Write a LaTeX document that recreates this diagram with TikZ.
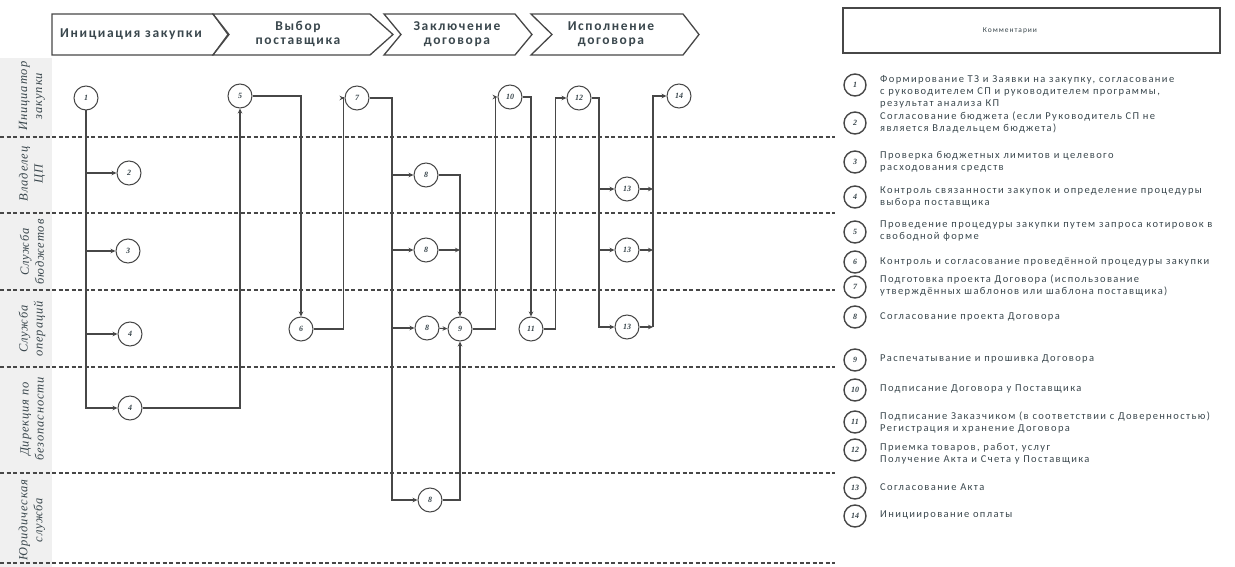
\documentclass[tikz,border=0pt]{standalone}
\usepackage{fontspec}
\setmainfont{Carlito}
\newfontfamily\cmtfont[LetterSpace=13]{Carlito}
\newfontfamily\hdrfont[LetterSpace=12]{Carlito}
\newfontfamily\lanefont[LetterSpace=7]{Liberation Serif}
\newfontfamily\numfont{Liberation Serif}
\usetikzlibrary{arrows.meta,calc}
\definecolor{ln}{HTML}{474747}
\definecolor{tx}{HTML}{3A474D}
\begin{document}
\begin{tikzpicture}[x=1pt,y=-1pt,
  every node/.style={inner sep=0pt},
  num/.style={circle,draw=ln,line width=1pt,minimum size=24pt,fill=white,
    font=\numfont\itshape\bfseries\fontsize{8}{8}\selectfont,text=tx},
  cnum/.style={circle,draw=ln,line width=1.4pt,minimum size=22pt,fill=white,
    font=\numfont\itshape\bfseries\fontsize{8}{8}\selectfont,text=tx},
  cmt/.style={anchor=north west,align=left,font=\cmtfont\fontsize{10.5}{12}\selectfont,text=tx},
  conn/.style={draw=ln,line width=1.1pt},
  arr/.style={conn,-{Stealth[length=5pt,width=4.5pt]}},
  lanesep/.style={draw=ln,line width=1.2pt,dash pattern=on 4pt off 2.5pt},
  lanelbl/.style={rotate=90,align=center,text=tx,
    font=\lanefont\itshape\fontsize{12.5}{15}\selectfont},
  chev/.style={draw=ln,line width=1.3pt,fill=white},
  hdr/.style={align=center,text=tx,font=\hdrfont\bfseries\fontsize{13.5}{14.5}\selectfont}
]
\useasboundingbox (0,0) rectangle (1235,567);

% lane label strip
\fill[gray!12] (0,58) rectangle (52,567);

% lane separators
\foreach \yy in {137,213,290,367,473,563}
  \draw[lanesep] (0,\yy) -- (835,\yy);

% lane labels
\node[lanelbl] (l1) at (32,96) {Инициатор\\закупки};
\node[lanelbl] (l2) at (32,174) {Владелец\\ЦП};
\node[lanelbl] (l3) at (32,252) {Служба\\бюджетов};
\node[lanelbl] (l4) at (32,329) {Служба\\операций};
\node[lanelbl] (l5) at (32,419) {Дирекция по\\безопасности};
\node[lanelbl] (l6) at (32,520) {Юридическая\\служба};

% header chevrons
\draw[chev] (52,14) -- (213,14) -- (228,34.5) -- (213,55) -- (52,55) -- cycle;
\draw[chev] (213,14) -- (370,14) -- (393,34.5) -- (370,55) -- (213,55) -- (229,34.5) -- cycle;
\draw[chev] (384,14) -- (515,14) -- (532,34.5) -- (515,55) -- (384,55) -- (401,34.5) -- cycle;
\draw[chev] (531,14) -- (683,14) -- (699,34.5) -- (683,55) -- (531,55) -- (552,34.5) -- cycle;
\node[hdr] (h1) at (131,34) {Инициация закупки};
\node[hdr] (h2) at (298,34) {Выбор\\поставщика};
\node[hdr] (h3) at (457,34) {Заключение\\договора};
\node[hdr] (h4) at (611,34) {Исполнение\\договора};

% comments header
\draw[draw=ln,line width=1.2pt,fill=white] (843,8) rectangle (1220,53);
\node[text=tx,font=\cmtfont\fontsize{7.5}{9}\selectfont] (hc) at (1010,31) {Комментарии};

% process nodes
\node[num] (n1)  at (86,98)   {1};
\node[num] (n2)  at (129,173) {2};
\node[num] (n3)  at (128,251) {3};
\node[num] (n4a) at (130,334) {4};
\node[num] (n4b) at (130,408) {4};
\node[num] (n5)  at (240,96)  {5};
\node[num] (n6)  at (301,329) {6};
\node[num] (n7)  at (357,98)  {7};
\node[num] (n8a) at (426,175) {8};
\node[num] (n8b) at (426,250) {8};
\node[num] (n8c) at (427,328) {8};
\node[num] (n8d) at (430,500) {8};
\node[num] (n9)  at (460,329) {9};
\node[num] (n10) at (510,97)  {10};
\node[num] (n11) at (531,329) {11};
\node[num] (n12) at (579,98)  {12};
\node[num] (n13a) at (627,189) {13};
\node[num] (n13b) at (627,250) {13};
\node[num] (n13c) at (627,327) {13};
\node[num] (n14) at (679,96)  {14};

\coordinate (v7) at (392,98);
\coordinate (v12) at (599,98);
\coordinate (v14) at (653,96);

% connectors
\draw[arr] (n1.south) |- (n4b.west);
\draw[arr] (n1.south |- n2) -- (n2.west);
\draw[arr] (n1.south |- n3) -- (n3.west);
\draw[arr] (n1.south |- n4a) -- (n4a.west);
\draw[arr] (n4b.east) -| (n5.south);
\draw[arr] (n5.east) -| (n6.north);
\draw[arr] (n6.east) -- ++(30,0) |- (n7.west);
\draw[arr] (n7.east) -- (v7) |- (n8d.west);
\draw[arr] (v7 |- n8a) -- (n8a.west);
\draw[arr] (v7 |- n8b) -- (n8b.west);
\draw[arr] (v7 |- n8c) -- (n8c.west);
\draw[arr] (n8a.east) -| (n9.north);
\draw[arr] (n8b.east) -- (n8b.east -| n9);
\draw[arr] (n8c) -- (n9);
\draw[arr] (n8d.east) -| (n9.south);
\draw[arr] (n9.east) -- ++(23,0) |- (n10.west);
\draw[arr] (n10.east) -| (n11.north);
\draw[arr] (n11.east) -- ++(12,0) |- (n12.west);
\draw[arr] (n12.east) -- (v12) |- (n13c.west);
\draw[arr] (v12 |- n13a) -- (n13a.west);
\draw[arr] (v12 |- n13b) -- (n13b.west);
\draw[arr] (n13a.east) -- (n13a.east -| v14);
\draw[arr] (n13b.east) -- (n13b.east -| v14);
\draw[arr] (n13c.east) -- (n13c.east -| v14);
\draw[arr] (v14 |- n13c) -- (v14) -- (n14.west);

% comments list
\node[cnum] (c1)  at (855,85)  {1};
\node[cnum] (c2)  at (855,123) {2};
\node[cnum] (c3)  at (855,162) {3};
\node[cnum] (c4)  at (855,197) {4};
\node[cnum] (c5)  at (855,232) {5};
\node[cnum] (c6)  at (855,262) {6};
\node[cnum] (c7)  at (855,287) {7};
\node[cnum] (c8)  at (855,317) {8};
\node[cnum] (c9)  at (855,360) {9};
\node[cnum] (c10) at (855,390) {10};
\node[cnum] (c11) at (855,422) {11};
\node[cnum] (c12) at (855,450) {12};
\node[cnum] (c13) at (855,488) {13};
\node[cnum] (c14) at (855,516) {14};

\node[cmt] (t1) at (880,75) {Формирование ТЗ и Заявки на закупку, согласование\\с руководителем СП и руководителем программы,\\результат анализа КП};
\node[cmt] (t2) at (880,112) {Согласование бюджета (если Руководитель СП не\\является Владельцем бюджета)};
\node[cmt] (t3) at (880,151) {Проверка бюджетных лимитов и целевого\\расходования средств};
\node[cmt] (t4) at (880,187) {Контроль связанности закупок и определение процедуры\\выбора поставщика};
\node[cmt] (t5) at (880,221) {Проведение процедуры закупки путем запроса котировок в\\свободной форме};
\node[cmt] (t6) at (880,257) {Контроль и согласование проведённой процедуры закупки};
\node[cmt] (t7) at (880,275) {Подготовка проекта Договора (использование\\утверждённых шаблонов или шаблона поставщика)};
\node[cmt] (t8) at (880,312) {Согласование проекта Договора};
\node[cmt] (t9) at (880,355) {Распечатывание и прошивка Договора};
\node[cmt] (t10) at (880,385) {Подписание Договора у Поставщика};
\node[cmt] (t11) at (880,412) {Подписание Заказчиком (в соответствии с Доверенностью)\\Регистрация и хранение Договора};
\node[cmt] (t12) at (880,443) {Приемка товаров, работ, услуг\\Получение Акта и Счета у Поставщика};
\node[cmt] (t13) at (880,483) {Согласование Акта};
\node[cmt] (t14) at (880,511) {Инициирование оплаты};
\end{tikzpicture}
\end{document}
